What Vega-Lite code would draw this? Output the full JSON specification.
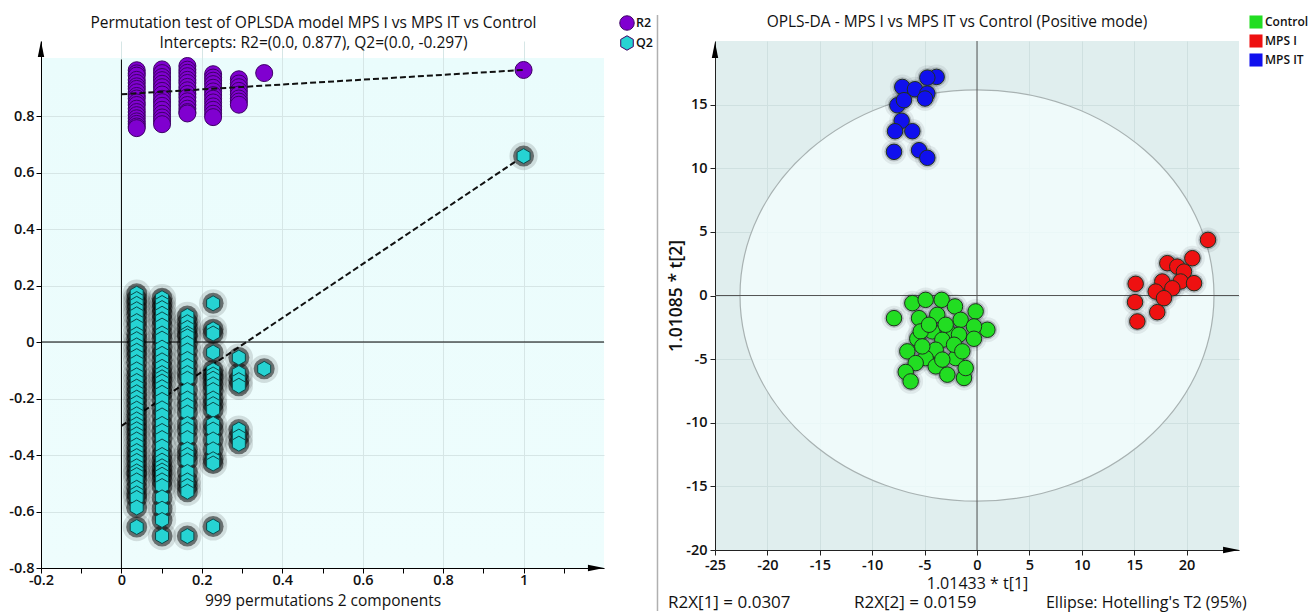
{
"$schema": "https://vega.github.io/schema/vega-lite/v6.json",
"padding": {"left": 8, "top": 14, "right": 0, "bottom": 0},
"background": "white",
"config": {"font": "Open Sans", "view": {"stroke": null}},
"spacing": 111,
"bounds": "flush",
"resolve": {"scale": {"color": "independent", "shape": "independent", "x": "independent", "y": "independent"}},
"datasets": {
"one": [{}],
"perm": [
{"x":0.038,"y":0.962,"s":"R2"},{"x":0.038,"y":0.951,"s":"R2"},{"x":0.038,"y":0.943,"s":"R2"},{"x":0.038,"y":0.928,"s":"R2"},{"x":0.038,"y":0.917,"s":"R2"},{"x":0.038,"y":0.905,"s":"R2"},{"x":0.038,"y":0.896,"s":"R2"},{"x":0.038,"y":0.884,"s":"R2"},{"x":0.038,"y":0.871,"s":"R2"},{"x":0.038,"y":0.862,"s":"R2"},{"x":0.038,"y":0.848,"s":"R2"},{"x":0.038,"y":0.839,"s":"R2"},{"x":0.038,"y":0.826,"s":"R2"},{"x":0.038,"y":0.814,"s":"R2"},{"x":0.038,"y":0.803,"s":"R2"},{"x":0.038,"y":0.792,"s":"R2"},{"x":0.038,"y":0.781,"s":"R2"},{"x":0.038,"y":0.772,"s":"R2"},{"x":0.038,"y":0.763,"s":"R2"},{"x":0.038,"y":0.757,"s":"R2"},
{"x":0.101,"y":0.965,"s":"R2"},{"x":0.101,"y":0.952,"s":"R2"},{"x":0.101,"y":0.938,"s":"R2"},{"x":0.101,"y":0.927,"s":"R2"},{"x":0.101,"y":0.914,"s":"R2"},{"x":0.101,"y":0.902,"s":"R2"},{"x":0.101,"y":0.889,"s":"R2"},{"x":0.101,"y":0.876,"s":"R2"},{"x":0.101,"y":0.861,"s":"R2"},{"x":0.101,"y":0.849,"s":"R2"},{"x":0.101,"y":0.836,"s":"R2"},{"x":0.101,"y":0.822,"s":"R2"},{"x":0.101,"y":0.808,"s":"R2"},{"x":0.101,"y":0.795,"s":"R2"},{"x":0.101,"y":0.783,"s":"R2"},{"x":0.101,"y":0.771,"s":"R2"},
{"x":0.164,"y":0.977,"s":"R2"},{"x":0.164,"y":0.964,"s":"R2"},{"x":0.164,"y":0.953,"s":"R2"},{"x":0.164,"y":0.941,"s":"R2"},{"x":0.164,"y":0.928,"s":"R2"},{"x":0.164,"y":0.917,"s":"R2"},{"x":0.164,"y":0.903,"s":"R2"},{"x":0.164,"y":0.891,"s":"R2"},{"x":0.164,"y":0.878,"s":"R2"},{"x":0.164,"y":0.866,"s":"R2"},{"x":0.164,"y":0.852,"s":"R2"},{"x":0.164,"y":0.839,"s":"R2"},{"x":0.164,"y":0.826,"s":"R2"},{"x":0.164,"y":0.814,"s":"R2"},{"x":0.164,"y":0.809,"s":"R2"},
{"x":0.228,"y":0.948,"s":"R2"},{"x":0.228,"y":0.936,"s":"R2"},{"x":0.228,"y":0.925,"s":"R2"},{"x":0.228,"y":0.913,"s":"R2"},{"x":0.228,"y":0.9,"s":"R2"},{"x":0.228,"y":0.887,"s":"R2"},{"x":0.228,"y":0.874,"s":"R2"},{"x":0.228,"y":0.861,"s":"R2"},{"x":0.228,"y":0.848,"s":"R2"},{"x":0.228,"y":0.834,"s":"R2"},{"x":0.228,"y":0.822,"s":"R2"},{"x":0.228,"y":0.808,"s":"R2"},{"x":0.228,"y":0.796,"s":"R2"},
{"x":0.292,"y":0.93,"s":"R2"},{"x":0.292,"y":0.915,"s":"R2"},{"x":0.292,"y":0.902,"s":"R2"},{"x":0.292,"y":0.889,"s":"R2"},{"x":0.292,"y":0.876,"s":"R2"},{"x":0.292,"y":0.862,"s":"R2"},{"x":0.292,"y":0.851,"s":"R2"},{"x":0.292,"y":0.84,"s":"R2"},
{"x":0.355,"y":0.952,"s":"R2"},{"x":1,"y":0.963,"s":"R2"},
{"x":0.038,"y":0.171,"s":"Q2"},{"x":0.038,"y":0.152,"s":"Q2"},{"x":0.038,"y":0.135,"s":"Q2"},{"x":0.038,"y":0.116,"s":"Q2"},{"x":0.038,"y":0.098,"s":"Q2"},{"x":0.038,"y":0.074,"s":"Q2"},{"x":0.038,"y":0.055,"s":"Q2"},{"x":0.038,"y":0.027,"s":"Q2"},{"x":0.038,"y":0.01,"s":"Q2"},{"x":0.038,"y":-0.012,"s":"Q2"},{"x":0.038,"y":-0.031,"s":"Q2"},{"x":0.038,"y":-0.05,"s":"Q2"},{"x":0.038,"y":-0.072,"s":"Q2"},{"x":0.038,"y":-0.097,"s":"Q2"},{"x":0.038,"y":-0.118,"s":"Q2"},{"x":0.038,"y":-0.138,"s":"Q2"},{"x":0.038,"y":-0.158,"s":"Q2"},{"x":0.038,"y":-0.178,"s":"Q2"},{"x":0.038,"y":-0.197,"s":"Q2"},{"x":0.038,"y":-0.216,"s":"Q2"},{"x":0.038,"y":-0.236,"s":"Q2"},{"x":0.038,"y":-0.256,"s":"Q2"},{"x":0.038,"y":-0.274,"s":"Q2"},{"x":0.038,"y":-0.292,"s":"Q2"},{"x":0.038,"y":-0.309,"s":"Q2"},{"x":0.038,"y":-0.327,"s":"Q2"},{"x":0.038,"y":-0.345,"s":"Q2"},{"x":0.038,"y":-0.366,"s":"Q2"},{"x":0.038,"y":-0.386,"s":"Q2"},{"x":0.038,"y":-0.404,"s":"Q2"},{"x":0.038,"y":-0.421,"s":"Q2"},{"x":0.038,"y":-0.44,"s":"Q2"},{"x":0.038,"y":-0.458,"s":"Q2"},{"x":0.038,"y":-0.471,"s":"Q2"},{"x":0.038,"y":-0.49,"s":"Q2"},{"x":0.038,"y":-0.516,"s":"Q2"},{"x":0.038,"y":-0.536,"s":"Q2"},{"x":0.038,"y":-0.552,"s":"Q2"},{"x":0.038,"y":-0.586,"s":"Q2"},{"x":0.038,"y":-0.655,"s":"Q2"},
{"x":0.101,"y":0.155,"s":"Q2"},{"x":0.101,"y":0.138,"s":"Q2"},{"x":0.101,"y":0.12,"s":"Q2"},{"x":0.101,"y":0.1,"s":"Q2"},{"x":0.101,"y":0.08,"s":"Q2"},{"x":0.101,"y":0.058,"s":"Q2"},{"x":0.101,"y":0.03,"s":"Q2"},{"x":0.101,"y":0.012,"s":"Q2"},{"x":0.101,"y":-0.02,"s":"Q2"},{"x":0.101,"y":-0.042,"s":"Q2"},{"x":0.101,"y":-0.065,"s":"Q2"},{"x":0.101,"y":-0.088,"s":"Q2"},{"x":0.101,"y":-0.11,"s":"Q2"},{"x":0.101,"y":-0.125,"s":"Q2"},{"x":0.101,"y":-0.14,"s":"Q2"},{"x":0.101,"y":-0.16,"s":"Q2"},{"x":0.101,"y":-0.18,"s":"Q2"},{"x":0.101,"y":-0.205,"s":"Q2"},{"x":0.101,"y":-0.235,"s":"Q2"},{"x":0.101,"y":-0.26,"s":"Q2"},{"x":0.101,"y":-0.29,"s":"Q2"},{"x":0.101,"y":-0.315,"s":"Q2"},{"x":0.101,"y":-0.34,"s":"Q2"},{"x":0.101,"y":-0.37,"s":"Q2"},{"x":0.101,"y":-0.4,"s":"Q2"},{"x":0.101,"y":-0.42,"s":"Q2"},{"x":0.101,"y":-0.44,"s":"Q2"},{"x":0.101,"y":-0.455,"s":"Q2"},{"x":0.101,"y":-0.47,"s":"Q2"},{"x":0.101,"y":-0.49,"s":"Q2"},{"x":0.101,"y":-0.51,"s":"Q2"},{"x":0.101,"y":-0.55,"s":"Q2"},{"x":0.101,"y":-0.59,"s":"Q2"},{"x":0.101,"y":-0.63,"s":"Q2"},{"x":0.101,"y":-0.687,"s":"Q2"},
{"x":0.164,"y":0.092,"s":"Q2"},{"x":0.164,"y":0.07,"s":"Q2"},{"x":0.164,"y":0.05,"s":"Q2"},{"x":0.164,"y":0.03,"s":"Q2"},{"x":0.164,"y":0.02,"s":"Q2"},{"x":0.164,"y":-0.005,"s":"Q2"},{"x":0.164,"y":-0.03,"s":"Q2"},{"x":0.164,"y":-0.06,"s":"Q2"},{"x":0.164,"y":-0.085,"s":"Q2"},{"x":0.164,"y":-0.11,"s":"Q2"},{"x":0.164,"y":-0.13,"s":"Q2"},{"x":0.164,"y":-0.17,"s":"Q2"},{"x":0.164,"y":-0.2,"s":"Q2"},{"x":0.164,"y":-0.225,"s":"Q2"},{"x":0.164,"y":-0.25,"s":"Q2"},{"x":0.164,"y":-0.29,"s":"Q2"},{"x":0.164,"y":-0.31,"s":"Q2"},{"x":0.164,"y":-0.34,"s":"Q2"},{"x":0.164,"y":-0.38,"s":"Q2"},{"x":0.164,"y":-0.4,"s":"Q2"},{"x":0.164,"y":-0.42,"s":"Q2"},{"x":0.164,"y":-0.46,"s":"Q2"},{"x":0.164,"y":-0.49,"s":"Q2"},{"x":0.164,"y":-0.51,"s":"Q2"},{"x":0.164,"y":-0.53,"s":"Q2"},{"x":0.164,"y":-0.687,"s":"Q2"},
{"x":0.228,"y":0.137,"s":"Q2"},{"x":0.228,"y":0.045,"s":"Q2"},{"x":0.228,"y":0.03,"s":"Q2"},{"x":0.228,"y":-0.037,"s":"Q2"},{"x":0.228,"y":-0.1,"s":"Q2"},{"x":0.228,"y":-0.115,"s":"Q2"},{"x":0.228,"y":-0.13,"s":"Q2"},{"x":0.228,"y":-0.15,"s":"Q2"},{"x":0.228,"y":-0.17,"s":"Q2"},{"x":0.228,"y":-0.2,"s":"Q2"},{"x":0.228,"y":-0.22,"s":"Q2"},{"x":0.228,"y":-0.24,"s":"Q2"},{"x":0.228,"y":-0.29,"s":"Q2"},{"x":0.228,"y":-0.31,"s":"Q2"},{"x":0.228,"y":-0.345,"s":"Q2"},{"x":0.228,"y":-0.38,"s":"Q2"},{"x":0.228,"y":-0.415,"s":"Q2"},{"x":0.228,"y":-0.43,"s":"Q2"},{"x":0.228,"y":-0.653,"s":"Q2"},
{"x":0.292,"y":-0.055,"s":"Q2"},{"x":0.292,"y":-0.11,"s":"Q2"},{"x":0.292,"y":-0.135,"s":"Q2"},{"x":0.292,"y":-0.155,"s":"Q2"},{"x":0.292,"y":-0.31,"s":"Q2"},{"x":0.292,"y":-0.335,"s":"Q2"},{"x":0.292,"y":-0.36,"s":"Q2"},
{"x":0.355,"y":-0.095,"s":"Q2"},{"x":1,"y":0.658,"s":"Q2"}
],
"reg": [
{"x":0,"y":0.877,"s":"R2"},{"x":1,"y":0.963,"s":"R2"},
{"x":0,"y":-0.297,"s":"Q2"},{"x":1,"y":0.658,"s":"Q2"}
],
"opls": [
{"t1":-7.92,"t2":-1.78,"g":"Control"},{"t1":-6.17,"t2":-0.6,"g":"Control"},{"t1":-4.9,"t2":-0.34,"g":"Control"},{"t1":-3.37,"t2":-0.34,"g":"Control"},{"t1":-2.1,"t2":-0.86,"g":"Control"},{"t1":-0.13,"t2":-1.25,"g":"Control"},{"t1":-3.79,"t2":-1.52,"g":"Control"},{"t1":-5.53,"t2":-1.78,"g":"Control"},{"t1":-1.56,"t2":-1.91,"g":"Control"},{"t1":0.99,"t2":-2.69,"g":"Control"},{"t1":-0.29,"t2":-2.43,"g":"Control"},{"t1":-4.26,"t2":-2.82,"g":"Control"},{"t1":-2.67,"t2":-2.95,"g":"Control"},{"t1":-1.72,"t2":-3.08,"g":"Control"},{"t1":-3.31,"t2":-3.48,"g":"Control"},{"t1":-5.7,"t2":-3.4,"g":"Control"},{"t1":-0.29,"t2":-3.4,"g":"Control"},{"t1":-6.65,"t2":-4.39,"g":"Control"},{"t1":-3.94,"t2":-4.26,"g":"Control"},{"t1":-2.03,"t2":-4.92,"g":"Control"},{"t1":-4.9,"t2":-4.92,"g":"Control"},{"t1":-5.85,"t2":-5.31,"g":"Control"},{"t1":-6.8,"t2":-6.01,"g":"Control"},{"t1":-3.94,"t2":-5.57,"g":"Control"},{"t1":-2.83,"t2":-6.22,"g":"Control"},{"t1":-1.24,"t2":-6.48,"g":"Control"},{"t1":-6.33,"t2":-6.75,"g":"Control"},{"t1":-5.37,"t2":-2.82,"g":"Control"},{"t1":-4.58,"t2":-2.3,"g":"Control"},{"t1":-2.99,"t2":-2.3,"g":"Control"},{"t1":-2.19,"t2":-3.87,"g":"Control"},{"t1":-1.4,"t2":-4.39,"g":"Control"},{"t1":-5.22,"t2":-4.0,"g":"Control"},{"t1":-3.31,"t2":-5.04,"g":"Control"},{"t1":-1.08,"t2":-5.7,"g":"Control"},
{"t1":22.04,"t2":4.37,"g":"MPS I"},{"t1":20.55,"t2":2.93,"g":"MPS I"},{"t1":18.16,"t2":2.54,"g":"MPS I"},{"t1":19.11,"t2":2.27,"g":"MPS I"},{"t1":19.75,"t2":1.88,"g":"MPS I"},{"t1":17.68,"t2":1.1,"g":"MPS I"},{"t1":19.43,"t2":1.1,"g":"MPS I"},{"t1":20.71,"t2":0.97,"g":"MPS I"},{"t1":15.14,"t2":0.92,"g":"MPS I"},{"t1":17.05,"t2":0.31,"g":"MPS I"},{"t1":18.64,"t2":0.57,"g":"MPS I"},{"t1":17.84,"t2":-0.21,"g":"MPS I"},{"t1":15.08,"t2":-0.52,"g":"MPS I"},{"t1":17.2,"t2":-1.31,"g":"MPS I"},{"t1":15.3,"t2":-2.04,"g":"MPS I"},
{"t1":-3.85,"t2":17.18,"g":"MPS IT"},{"t1":-4.74,"t2":17.12,"g":"MPS IT"},{"t1":-7.13,"t2":16.39,"g":"MPS IT"},{"t1":-5.92,"t2":16.21,"g":"MPS IT"},{"t1":-4.74,"t2":15.87,"g":"MPS IT"},{"t1":-4.96,"t2":15.48,"g":"MPS IT"},{"t1":-7.6,"t2":14.95,"g":"MPS IT"},{"t1":-6.97,"t2":15.35,"g":"MPS IT"},{"t1":-7.19,"t2":13.73,"g":"MPS IT"},{"t1":-7.82,"t2":12.91,"g":"MPS IT"},{"t1":-6.17,"t2":12.91,"g":"MPS IT"},{"t1":-7.92,"t2":11.29,"g":"MPS IT"},{"t1":-5.53,"t2":11.42,"g":"MPS IT"},{"t1":-4.74,"t2":10.82,"g":"MPS IT"}
]
},
"hconcat": [
{
"width": 563, "height": 527,
"title": {"text": ["Permutation test of OPLSDA model MPS I vs MPS IT vs Control", "Intercepts: R2=(0.0, 0.877), Q2=(0.0, -0.297)"], "fontSize": 15.5, "fontWeight": "normal", "color": "#111", "lineHeight": 20, "offset": -37, "anchor": "middle", "frame": "group", "dx": -9},
"view": {"fill": {"gradient": "linear", "x1": 0, "y1": 0, "x2": 0, "y2": 1, "stops": [{"offset": 0, "color": "#ffffff"}, {"offset": 0.032, "color": "#ffffff"}, {"offset": 0.0325, "color": "#eafcfc"}, {"offset": 1, "color": "#eefdfd"}]}, "stroke": null},
"layer": [
{"data": {"name": "one"}, "mark": {"type": "rule", "color": "#b0b0b0", "strokeWidth": 1.5}, "encoding": {"x": {"datum": 1.333, "type": "quantitative"}, "y": {"datum": -0.952, "type": "quantitative"}, "y2": {"datum": 1.1575}}},
{"data": {"name": "one"}, "mark": {"type": "rule", "color": "#000", "strokeWidth": 1}, "encoding": {"x": {"datum": 0, "type": "quantitative"}, "y": {"datum": -0.8, "type": "quantitative"}, "y2": {"datum": 1.0}}},
{"data": {"name": "one"}, "mark": {"type": "rule", "color": "#000", "strokeWidth": 1}, "encoding": {"y": {"datum": 0, "type": "quantitative"}}},
{"data": {"name": "perm"}, "transform": [{"filter": "datum.s === 'R2'"}],
 "mark": {"type": "point", "filled": true, "size": 289, "stroke": "#3d0066", "strokeWidth": 1, "opacity": 1},
 "encoding": {
  "x": {"field": "x", "type": "quantitative", "scale": {"domain": [-0.2, 1.2], "nice": false, "zero": false},
   "axis": {"values": [-0.2, -0.1, 0, 0.1, 0.2, 0.3, 0.4, 0.5, 0.6, 0.7, 0.8, 0.9, 1, 1.1], "labelExpr": "abs(datum.value*5 - round(datum.value*5)) < 0.001 ? replace(format(datum.value, ''), '\u2212', '-') : ''", "labelOverlap": false, "labelFlush": false, "title": "999 permutations 2 components", "titleFontSize": 15.5, "titleFontWeight": "normal", "titleColor": "#111", "titlePadding": 7, "labelFontSize": 14.5, "labelFontWeight": 600, "labelColor": "#111", "domainColor": "#000", "tickColor": "#000", "tickSize": 5, "grid": true, "gridColor": "#d6e6e6", "gridOpacity": {"condition": {"test": "abs(datum.value*5 - round(datum.value*5)) < 0.001", "value": 1}, "value": 0}, "labelPadding": 0}},
  "y": {"field": "y", "type": "quantitative", "scale": {"domain": [-0.8, 1.0655], "nice": false, "zero": false},
   "axis": {"values": [-0.8, -0.7, -0.6, -0.5, -0.4, -0.3, -0.2, -0.1, 0, 0.1, 0.2, 0.3, 0.4, 0.5, 0.6, 0.7, 0.8, 0.9], "labelExpr": "abs(datum.value*5 - round(datum.value*5)) < 0.001 ? replace(format(datum.value, ''), '\u2212', '-') : ''", "labelOverlap": false, "labelFlush": false, "title": null, "labelFontSize": 14.5, "labelFontWeight": 600, "labelColor": "#111", "domainColor": "#000", "tickColor": "#000", "tickSize": 5, "grid": true, "gridColor": "#d6e6e6", "gridOpacity": {"condition": {"test": "abs(datum.value*5 - round(datum.value*5)) < 0.001", "value": 1}, "value": 0}, "labelPadding": 2}},
  "color": {"field": "s", "type": "nominal", "scale": {"domain": ["R2", "Q2"], "range": ["#8000d0", "#26d3d3"]},
   "legend": {"title": null, "orient": "none", "legendX": 578, "legendY": -26, "symbolSize": 210, "labelFontSize": 12.5, "labelFontWeight": 600, "labelColor": "#111", "rowPadding": 0, "labelOffset": 1, "symbolStrokeWidth": 1}},
  "shape": {"field": "s", "type": "nominal", "scale": {"domain": ["R2", "Q2"], "range": ["circle", "M0,-1L0.866,-0.5L0.866,0.5L0,1L-0.866,0.5L-0.866,-0.5Z"]},
   "legend": {"title": null, "orient": "none", "legendX": 578, "legendY": -26, "symbolSize": 210, "labelFontSize": 12.5, "labelFontWeight": 600, "labelColor": "#111", "rowPadding": 0, "labelOffset": 1, "symbolStrokeWidth": 1}}
 }},
{"data": {"name": "reg"}, "mark": {"type": "line", "color": "#111", "strokeWidth": 2, "strokeDash": [6, 3]},
 "encoding": {"x": {"field": "x", "type": "quantitative"}, "y": {"field": "y", "type": "quantitative"}, "detail": {"field": "s"}}},
{"data": {"name": "perm"}, "transform": [{"filter": "datum.s === 'Q2'"}],
 "mark": {"type": "point", "filled": true, "shape": "circle", "size": 800, "color": "#000", "opacity": 0.12},
 "encoding": {"x": {"field": "x", "type": "quantitative"}, "y": {"field": "y", "type": "quantitative"}}},
{"data": {"name": "perm"}, "transform": [{"filter": "datum.s === 'Q2'"}],
 "mark": {"type": "point", "filled": true, "shape": "circle", "size": 441, "color": "#000", "opacity": 0.5},
 "encoding": {"x": {"field": "x", "type": "quantitative"}, "y": {"field": "y", "type": "quantitative"}}},
{"data": {"name": "perm"}, "transform": [{"filter": "datum.s === 'Q2'"}],
 "mark": {"type": "point", "filled": true, "size": 225, "stroke": "#0b4a4a", "strokeWidth": 1, "opacity": 1},
 "encoding": {"x": {"field": "x", "type": "quantitative"}, "y": {"field": "y", "type": "quantitative"},
  "color": {"field": "s", "type": "nominal"}, "shape": {"field": "s", "type": "nominal"}}},
{"data": {"name": "one"}, "mark": {"type": "point", "filled": true, "shape": "M0,-1L0.4,1L-0.4,1Z", "size": 256, "color": "#000", "opacity": 1}, "encoding": {"x": {"datum": -0.2, "type": "quantitative"}, "y": {"datum": 1.037, "type": "quantitative"}}},
{"data": {"name": "one"}, "mark": {"type": "point", "filled": true, "shape": "M1,0L-1,0.4L-1,-0.4Z", "size": 256, "color": "#000", "opacity": 1}, "encoding": {"x": {"datum": 1.18, "type": "quantitative"}, "y": {"datum": -0.8, "type": "quantitative"}}}
]
},
{
"width": 524, "height": 509,
"title": {"text": "OPLS-DA - MPS I vs MPS IT vs Control (Positive mode)", "fontSize": 15.5, "fontWeight": "normal", "color": "#111", "offset": -15, "anchor": "middle", "frame": "group", "dx": -20},
"view": {"fill": "#e0eeee", "stroke": null},
"layer": [
{"data": {"name": "one"}, "mark": {"type": "point", "filled": true, "shape": "M-1,0C-1,-0.4794 -0.5523,-0.868 0,-0.868C0.5523,-0.868 1,-0.4794 1,0C1,0.4794 0.5523,0.868 0,0.868C-0.5523,0.868 -1,0.4794 -1,0Z", "size": 224676, "fill": "#f4ffff", "fillOpacity": 0.72, "stroke": "#a8b2b2", "strokeOpacity": 1, "strokeWidth": 1.2, "opacity": 1},
 "encoding": {"x": {"datum": 0, "type": "quantitative"}, "y": {"datum": 0, "type": "quantitative"}}},
{"data": {"name": "one"}, "mark": {"type": "rule", "color": "#555", "strokeWidth": 1}, "encoding": {"x": {"datum": 0, "type": "quantitative"}}},
{"data": {"name": "one"}, "mark": {"type": "rule", "color": "#555", "strokeWidth": 1}, "encoding": {"y": {"datum": 0, "type": "quantitative"}}},
{"data": {"name": "opls"}, "mark": {"type": "point", "filled": true, "shape": "circle", "size": 620, "color": "#223", "opacity": 0.08},
 "encoding": {"x": {"field": "t1", "type": "quantitative"}, "y": {"field": "t2", "type": "quantitative"}}},
{"data": {"name": "opls"}, "mark": {"type": "point", "filled": true, "shape": "circle", "size": 380, "color": "#223", "opacity": 0.22},
 "encoding": {"x": {"field": "t1", "type": "quantitative"}, "y": {"field": "t2", "type": "quantitative"}}},
{"data": {"name": "opls"}, "mark": {"type": "point", "filled": true, "shape": "circle", "size": 240, "stroke": "#203020", "strokeWidth": 1, "opacity": 1},
 "encoding": {
  "x": {"field": "t1", "type": "quantitative", "scale": {"domain": [-25, 25], "nice": false, "zero": false},
   "axis": {"values": [-25, -22.5, -20, -17.5, -15, -12.5, -10, -7.5, -5, -2.5, 0, 2.5, 5, 7.5, 10, 12.5, 15, 17.5, 20, 22.5], "labelExpr": "datum.value % 5 === 0 ? replace(format(datum.value, ''), '\u2212', '-') : ''", "labelOverlap": false, "labelFlush": false, "title": "1.01433 * t[1]", "titleFontSize": 16, "titleFontWeight": "normal", "titleColor": "#111", "titlePadding": 4, "labelFontSize": 14.5, "labelFontWeight": 600, "labelColor": "#111", "domainColor": "#222", "tickColor": "#222", "tickSize": 5, "grid": true, "gridColor": "#cfe0e0", "gridOpacity": {"condition": {"test": "datum.value % 5 === 0", "value": 1}, "value": 0}, "labelPadding": 3}},
  "y": {"field": "t2", "type": "quantitative", "scale": {"domain": [-20, 20], "nice": false, "zero": false},
   "axis": {"values": [-20, -17.5, -15, -12.5, -10, -7.5, -5, -2.5, 0, 2.5, 5, 7.5, 10, 12.5, 15, 17.5], "labelExpr": "datum.value % 5 === 0 ? replace(format(datum.value, ''), '\u2212', '-') : ''", "labelOverlap": false, "labelFlush": false, "title": "1.01085 * t[2]", "titleFontSize": 17.5, "titleFontWeight": 600, "titleColor": "#111", "titlePadding": 0, "labelFontSize": 14.5, "labelFontWeight": 600, "labelColor": "#111", "domainColor": "#222", "tickColor": "#222", "tickSize": 5, "grid": true, "gridColor": "#cfe0e0", "gridOpacity": {"condition": {"test": "datum.value % 5 === 0", "value": 1}, "value": 0}, "labelPadding": 3}},
  "color": {"field": "g", "type": "nominal", "scale": {"domain": ["Control", "MPS I", "MPS IT"], "range": ["#22dd22", "#ee1111", "#1010ee"]},
   "legend": {"title": null, "orient": "none", "legendX": 534, "legendY": -26, "symbolType": "square", "symbolSize": 170, "symbolStrokeWidth": 0, "labelFontSize": 12, "labelFontWeight": 600, "labelColor": "#111", "rowPadding": 5, "labelOffset": 2}}
 }},
{"data": {"name": "one"}, "mark": {"type": "point", "filled": true, "shape": "M0,-1L0.4,1L-0.4,1Z", "size": 256, "color": "#000", "opacity": 1}, "encoding": {"x": {"datum": -25, "type": "quantitative"}, "y": {"datum": 19.29, "type": "quantitative"}}},
{"data": {"name": "one"}, "mark": {"type": "point", "filled": true, "shape": "M1,0L-1,0.4L-1,-0.4Z", "size": 256, "color": "#000", "opacity": 1}, "encoding": {"x": {"datum": 24.24, "type": "quantitative"}, "y": {"datum": -20, "type": "quantitative"}}},
{"data": {"name": "one"}, "mark": {"type": "text", "text": "R2X[1] = 0.0307", "align": "left", "baseline": "middle", "fontSize": 17, "color": "#111"}, "encoding": {"x": {"datum": -29.48, "type": "quantitative"}, "y": {"datum": -24.15, "type": "quantitative"}}},
{"data": {"name": "one"}, "mark": {"type": "text", "text": "R2X[2] = 0.0159", "align": "left", "baseline": "middle", "fontSize": 17, "color": "#111"}, "encoding": {"x": {"datum": -11.74, "type": "quantitative"}, "y": {"datum": -24.15, "type": "quantitative"}}},
{"data": {"name": "one"}, "mark": {"type": "text", "text": "Ellipse: Hotelling's T2 (95%)", "align": "left", "baseline": "middle", "fontSize": 16, "color": "#111"}, "encoding": {"x": {"datum": 6.58, "type": "quantitative"}, "y": {"datum": -24.15, "type": "quantitative"}}}
]
}
]
}
